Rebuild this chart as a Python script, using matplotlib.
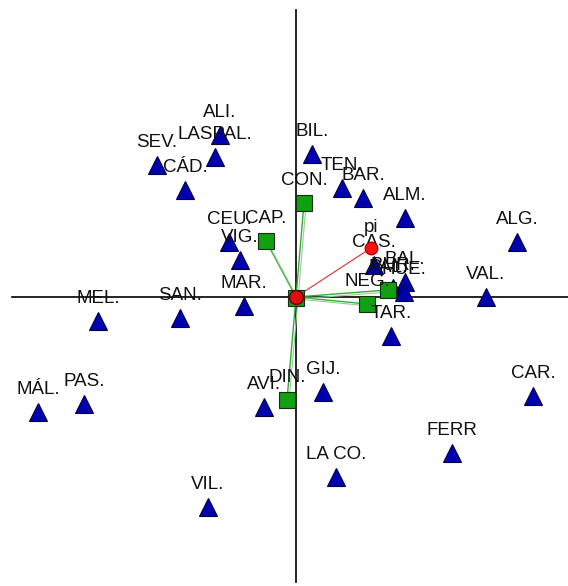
import numpy as np
import matplotlib
matplotlib.use('Agg')
from matplotlib import pyplot as plt

plt.rcParams['font.family'] = ['Liberation Sans', 'DejaVu Sans']

# puntos (triángulos azules): etiqueta, coordenada 1, coordenada 2
pt_names = ['ALI.', 'LASPAL.', 'SEV.', 'CÁD.', 'BIL.', 'TEN.', 'BAR.', 'ALM.',
            'CEU.', 'VIG.', 'MAR.', 'SAN.', 'MEL.', 'MÁL.', 'PAS.', 'AVI.',
            'GIJ.', 'CAR.', 'FERR', 'LA CO.', 'VIL.', 'ALG.', 'VAL.', 'TAR.',
            'CAS.', 'BAL.', 'BUR.', 'HUE.']
pt_x = [-0.76, -0.81, -1.39, -1.11, 0.16, 0.46, 0.67, 1.09,
        -0.67, -0.56, -0.52, -1.16, -1.98, -2.58, -2.12, -0.32,
        0.27, 2.37, 1.56, 0.40, -0.88, 2.21, 1.90, 0.95,
        0.78, 1.09, 0.97, 1.08]
pt_y = [1.62, 1.40, 1.32, 1.07, 1.43, 1.09, 0.99, 0.79,
        0.55, 0.37, -0.09, -0.21, -0.24, -1.15, -1.07, -1.10,
        -0.95, -0.99, -1.56, -1.80, -2.10, 0.55, 0.00, -0.39,
        0.32, 0.15, 0.09, 0.05]

# variables (cuadrados verdes)
var_names = ['CON.', 'CAP.', 'DIN.', 'NEG.', 'PAL.', '']
var_x = [0.08, -0.30, -0.09, 0.71, 0.92, 0.00]
var_y = [0.94, 0.56, -1.03, -0.07, 0.07, -0.01]

# punto suplementario
pi_name = 'pi'
pi_x, pi_y = 0.75, 0.49

fig = plt.figure(figsize=(5.68, 5.86), dpi=100)
ax = fig.add_axes([0, 0, 1, 1])
ax.set_xlim(-2.96, 2.72)
ax.set_ylim(-2.89, 2.97)
ax.axis('off')

# ejes
ax.plot([-2.84, 2.72], [0, 0], color='black', lw=1.2, zorder=1)
ax.plot([0, 0], [-2.85, 2.87], color='black', lw=1.2, zorder=1)

# vectores de las variables
for x, y in zip(var_x, var_y):
    ax.plot([0, x], [0, y], color='#3aa83a', lw=1.0, zorder=2)
    ax.plot([0.02, x + 0.02], [-0.02, y - 0.02], color='#90d090', lw=0.8, zorder=2)
ax.plot([0, pi_x], [0, pi_y], color='#e03030', lw=0.8, zorder=2)

# triángulos
ax.plot(pt_x, pt_y, linestyle='none', marker='^', markersize=13,
        markerfacecolor='#0000b0', markeredgecolor='#000040', markeredgewidth=0.8, zorder=3)
for n, x, y in zip(pt_names, pt_x, pt_y):
    ax.annotate(n, (x, y), xytext=(0, 16), textcoords='offset points',
                ha='center', va='center', fontsize=13.5, color='#111111', zorder=5)

# cuadrados
ax.plot(var_x, var_y, linestyle='none', marker='s', markersize=12,
        markerfacecolor='#10a010', markeredgecolor='#103010', markeredgewidth=0.8, zorder=4)
for n, x, y in zip(var_names, var_x, var_y):
    ax.annotate(n, (x, y), xytext=(0, 16), textcoords='offset points',
                ha='center', va='center', fontsize=13.5, color='#111111', zorder=5)

# pi y origen
ax.plot([pi_x], [pi_y], marker='o', markersize=9, markerfacecolor='#ff1010',
        markeredgecolor='#c00000', linestyle='none', zorder=6)
ax.annotate(pi_name, (pi_x, pi_y), xytext=(0, 15), textcoords='offset points',
            ha='center', va='center', fontsize=13.5, color='#111111', zorder=5)
ax.plot([0], [0], marker='o', markersize=10, markerfacecolor='#e01010',
        markeredgecolor='#600000', linestyle='none', zorder=6)

fig.savefig('out.png', dpi=100)
